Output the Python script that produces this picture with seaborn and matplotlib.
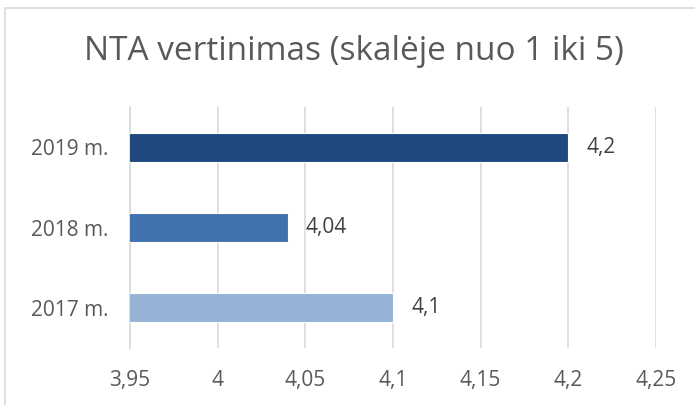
import matplotlib
matplotlib.use("Agg")
import matplotlib.pyplot as plt
import seaborn as sns
import pandas as pd
from matplotlib.patches import Rectangle
from matplotlib.ticker import FuncFormatter, FixedLocator

categories = ["2019 m.", "2018 m.", "2017 m."]
values = [4.2, 4.04, 4.1]
colors = ["#1F497D", "#4171AE", "#95B3D7"]
x_ticks = [3.95, 4.0, 4.05, 4.1, 4.15, 4.2, 4.25]
title = "NTA vertinimas (skalėje nuo 1 iki 5)"

def fmt(v):
    s = f"{v:.2f}".rstrip("0").rstrip(".")
    return s.replace(".", ",")

sns.set_theme(style="white")
plt.rcParams['font.family'] = ['Open Sans', 'DejaVu Sans']

df = pd.DataFrame({"cat": categories, "val": values})

fig = plt.figure(figsize=(6.95, 4.05), dpi=100)
ax = fig.add_axes([130/695, 1-348/405, (656-130)/695, (348-107)/405])

sns.barplot(data=df, y="cat", x="val", hue="cat", palette=colors, order=categories,
            hue_order=categories, orient="h", width=0.36, legend=False, ax=ax,
            saturation=1, edgecolor="white", linewidth=0.8, zorder=3)

ax.set_xlim(3.95, 4.25)
ax.set_ylim(2.5, -0.5)
ax.xaxis.set_major_locator(FixedLocator(x_ticks))
ax.xaxis.set_major_formatter(FuncFormatter(lambda v, p: fmt(v)))
ax.grid(axis="x", color="#D9D9D9", linewidth=1.2, zorder=0)
ax.set_axisbelow(True)
ax.set_xlabel("")
ax.set_ylabel("")

for s in ["top", "right", "bottom"]:
    ax.spines[s].set_visible(False)
ax.spines["left"].set_color("#D9D9D9")
ax.spines["left"].set_linewidth(1.2)

ax.tick_params(axis="x", length=0, pad=16, labelsize=15, labelcolor="#595959")
ax.tick_params(axis="y", which="major", length=0, pad=15.5, labelsize=15, labelcolor="#595959")
ax.set_yticks([-0.5, 0.5, 1.5, 2.5], minor=True)
ax.tick_params(axis="y", which="minor", length=5, color="#D9D9D9", width=1.2)

for i, v in enumerate(values):
    ax.annotate(fmt(v), xy=(v, i), xytext=(13, 0), textcoords="offset points",
                va="center", ha="left", fontsize=15, color="#404040")

fig.text(354/695, 1-52/405, title, ha="center", va="center", fontsize=24, color="#595959")

fig.patches.append(Rectangle((5/695, -0.05), 1.2, 1-8/405+0.05, transform=fig.transFigure,
                             fill=False, edgecolor="#D9D9D9", linewidth=1.2))

fig.savefig("out.png", dpi=100)
